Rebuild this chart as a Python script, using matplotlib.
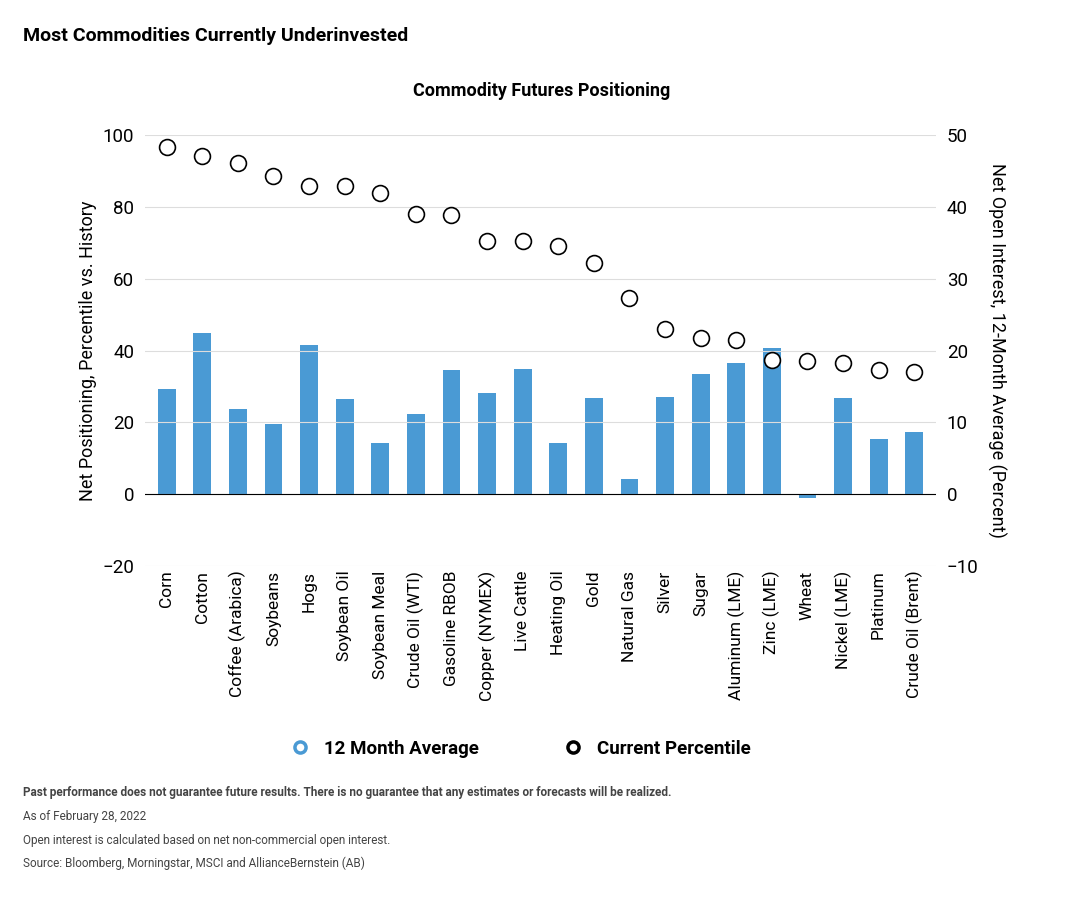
import numpy as np
from matplotlib import pyplot as plt
from matplotlib.lines import Line2D

plt.rcParams['font.family'] = ['Roboto', 'DejaVu Sans']

names = ["Corn", "Cotton", "Coffee (Arabica)", "Soybeans", "Hogs", "Soybean Oil",
         "Soybean Meal", "Crude Oil (WTI)", "Gasoline RBOB", "Copper (NYMEX)",
         "Live Cattle", "Heating Oil", "Gold", "Natural Gas", "Silver", "Sugar",
         "Aluminum (LME)", "Zinc (LME)", "Wheat", "Nickel (LME)", "Platinum",
         "Crude Oil (Brent)"]
# 12 month average net open interest (percent, right axis)
avg_oi = [14.6, 22.4, 11.9, 9.8, 20.8, 13.3, 7.1, 11.2, 17.3, 14.1, 17.4, 7.1,
          13.4, 2.1, 13.5, 16.7, 18.3, 20.4, -0.5, 13.4, 7.7, 8.7]
# current percentile vs history (left axis)
pctile = [96.7, 94.2, 92.2, 88.6, 85.8, 85.8, 83.8, 78.0, 77.7, 70.5, 70.5, 69.0,
          64.3, 54.6, 46.0, 43.5, 42.9, 37.3, 37.0, 36.5, 34.5, 34.0]

x = np.arange(len(names))
fig = plt.figure(figsize=(10.68, 9.14), dpi=100)
ax = fig.add_axes([0.136, 0.381, 0.74, 0.471])
ax2 = ax.twinx()

ax2.bar(x, avg_oi, width=0.5, color="#4a9ad4", zorder=2)
ax.scatter(x, pctile, s=130, facecolor="white", edgecolor="black", linewidth=1.2, zorder=5)
ax.set_zorder(ax2.get_zorder() + 1)
ax.patch.set_visible(False)

ax.set_ylim(-20, 100)
ax2.set_ylim(-10, 50)
ax.set_xlim(-0.6, len(names) - 0.4)
ax.set_yticks(range(-20, 101, 20))
ax2.set_yticks(range(-10, 51, 10))
ax.set_yticklabels(["\u221220"] + [str(v) for v in range(0, 101, 20)])
ax2.set_yticklabels(["\u221210"] + [str(v) for v in range(0, 51, 10)])
ax.set_xticks(x)
ax.set_xticklabels(names, rotation=90, fontsize=12.5)
for a in (ax, ax2):
    a.tick_params(axis="y", labelsize=13.5, length=0, pad=8)
    for s in a.spines.values():
        s.set_visible(False)
ax.tick_params(axis="x", length=0)
for v in range(-20, 101, 20):
    ax.axhline(v, color="#dddddd", lw=0.8, zorder=0)
ax.axhline(0, color="black", lw=0.8, zorder=1)
ax.set_ylabel("Net Positioning, Percentile vs. History", fontsize=13)
ax2.set_ylabel("Net Open Interest, 12-Month Average (Percent)", fontsize=13, rotation=270, labelpad=20)

fig.text(0.022, 0.955, "Most Commodities Currently Underinvested", fontsize=14, fontweight="bold")
fig.text(0.507, 0.895, "Commodity Futures Positioning", fontsize=13, fontweight="bold", ha="center")

handles = [Line2D([], [], marker="o", ls="", markersize=8, markerfacecolor="white",
                  markeredgecolor="#4a9ad4", markeredgewidth=2.5),
           Line2D([], [], marker="o", ls="", markersize=8, markerfacecolor="white",
                  markeredgecolor="black", markeredgewidth=2.5)]
fig.legend(handles, ["12 Month Average", "Current Percentile"], loc="center",
           bbox_to_anchor=(0.483, 0.181), ncol=2, frameon=False, columnspacing=4,
           handletextpad=0.3, prop={"size": 13.5, "weight": "bold"})

fig.text(0.022, 0.129, "Past performance does not guarantee future results. There is no guarantee that any estimates or forecasts will be realized.",
         fontsize=8.5, fontweight="bold", color="#444444")
fig.text(0.022, 0.103, "As of February 28, 2022", fontsize=8.5, color="#444444")
fig.text(0.022, 0.077, "Open interest is calculated based on net non-commercial open interest.", fontsize=8.5, color="#444444")
fig.text(0.022, 0.051, "Source: Bloomberg, Morningstar, MSCI and AllianceBernstein (AB)", fontsize=8.5, color="#444444")

plt.savefig("out.png", dpi=100)
